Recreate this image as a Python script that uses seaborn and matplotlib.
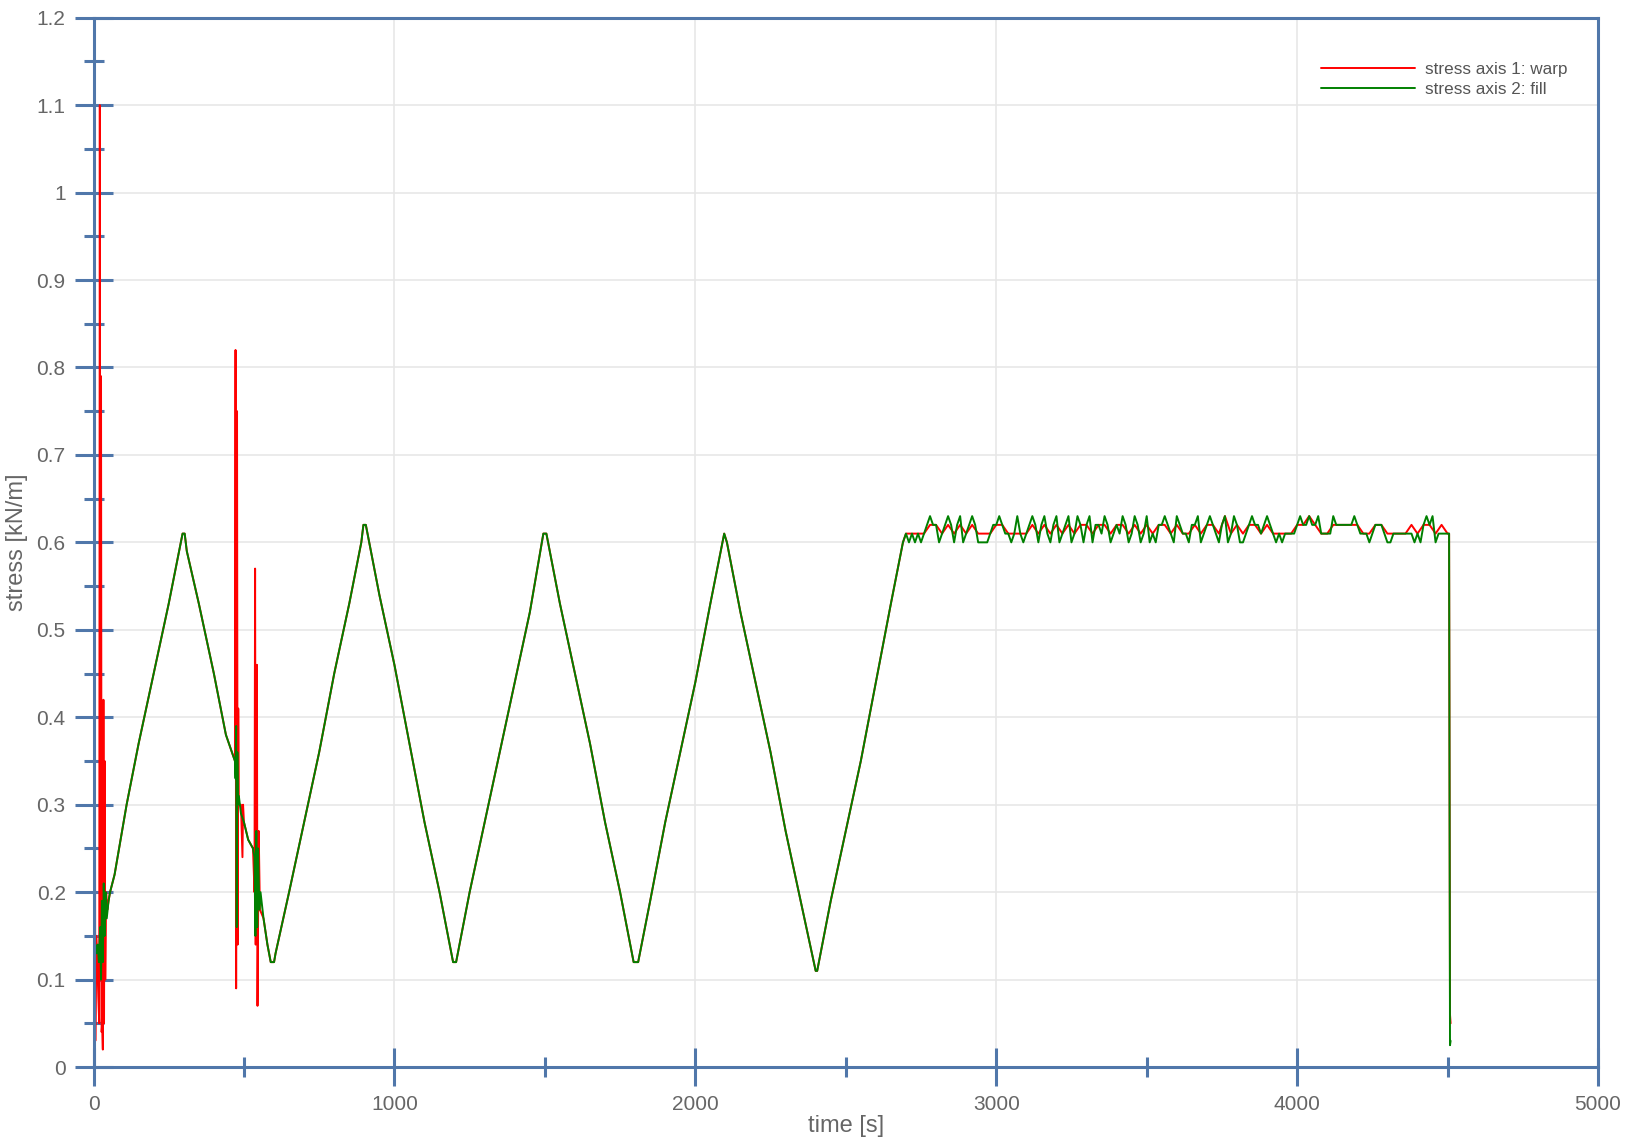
import numpy as np
import pandas as pd
import matplotlib
matplotlib.use("Agg")
import matplotlib.pyplot as plt
import seaborn as sns
from matplotlib.ticker import MultipleLocator, FuncFormatter

# start of test: noisy first seconds (time, value)
warp_start_t = [0, 2, 4, 6, 9, 12, 16, 19, 21, 23, 25, 27, 29, 31, 33, 35, 37, 39, 42, 46, 50]
warp_start_v = [0.12, 0.08, 0.52, 0.03, 0.15, 0.13, 0.08, 0.05, 1.10, 0.10, 0.79, 0.04, 0.05, 0.02,
                0.42, 0.05, 0.35, 0.10, 0.20, 0.18, 0.19]
fill_start_t = [0, 3, 6, 10, 14, 18, 22, 25, 28, 31, 34, 37, 40, 44, 50]
fill_start_v = [0.15, 0.10, 0.14, 0.13, 0.14, 0.12, 0.16, 0.10, 0.19, 0.12, 0.21, 0.15, 0.20, 0.17, 0.19]

# first ramp up and down (shared by both axes)
ramp1_t = [55, 70, 110, 150, 200, 250, 290, 296, 303, 310, 350, 400, 440, 470]
ramp1_v = [0.20, 0.22, 0.30, 0.37, 0.45, 0.53, 0.60, 0.61, 0.61, 0.59, 0.53, 0.45, 0.38, 0.35]

# disturbance around 470-590 s
warp_mid_t = [472, 474, 477, 479, 481, 483, 490, 495, 497, 500, 514, 530, 535, 537, 539, 543, 545,
              549, 553, 565, 578, 589]
warp_mid_v = [0.82, 0.09, 0.75, 0.14, 0.41, 0.30, 0.30, 0.24, 0.30, 0.28, 0.26, 0.25, 0.20, 0.57,
              0.14, 0.46, 0.07, 0.27, 0.18, 0.17, 0.14, 0.12]
fill_mid_t = [472, 474, 476, 478, 480, 483, 490, 500, 514, 530, 535, 538, 541, 544, 547, 551, 555,
              565, 578, 589]
fill_mid_v = [0.33, 0.39, 0.16, 0.36, 0.30, 0.31, 0.29, 0.28, 0.26, 0.25, 0.24, 0.15, 0.27, 0.16,
              0.25, 0.18, 0.20, 0.17, 0.14, 0.12]

# load cycles (shared by both axes)
cycles_t = [600, 605, 650, 700, 750, 800, 850, 890, 897, 905, 950, 1000, 1050, 1100, 1150, 1195,
            1205, 1250, 1300, 1350, 1400, 1450, 1490, 1495, 1505, 1550, 1600, 1650, 1700, 1750,
            1795, 1810, 1850, 1900, 1950, 2000, 2050, 2090, 2096, 2105, 2150, 2200, 2250, 2300,
            2350, 2400, 2405, 2450, 2500, 2550, 2600, 2650, 2690]
cycles_v = [0.12, 0.13, 0.20, 0.28, 0.36, 0.45, 0.53, 0.60, 0.62, 0.62, 0.54, 0.46, 0.37, 0.28,
            0.20, 0.12, 0.12, 0.20, 0.28, 0.36, 0.44, 0.52, 0.60, 0.61, 0.61, 0.53, 0.45, 0.37,
            0.28, 0.20, 0.12, 0.12, 0.19, 0.28, 0.36, 0.44, 0.53, 0.60, 0.61, 0.60, 0.52, 0.44,
            0.36, 0.27, 0.19, 0.11, 0.11, 0.19, 0.27, 0.35, 0.44, 0.53, 0.60]

# hold phase, 2700-4500 s every 10 s (hundredths of kN/m)
fill_hold = [61, 60, 61, 60, 61, 60, 61, 62, 63, 62, 62, 60, 61, 62, 63, 62, 60, 62, 63, 60,
             61, 62, 63, 62, 60, 60, 60, 60, 61, 62, 62, 63, 62, 61, 61, 60, 61, 63, 61, 60,
             61, 62, 63, 62, 60, 62, 63, 61, 60, 62, 63, 60, 61, 62, 63, 60, 61, 63, 62, 60,
             62, 63, 60, 62, 62, 61, 63, 62, 60, 61, 62, 61, 63, 62, 60, 61, 63, 62, 60, 61,
             63, 60, 61, 60, 62, 62, 63, 62, 61, 60, 63, 62, 61, 61, 60, 62, 62, 63, 60, 61,
             62, 63, 62, 61, 60, 62, 63, 60, 61, 63, 62, 60, 60, 61, 62, 63, 62, 62, 61, 62,
             63, 62, 61, 60, 61, 60, 61, 61, 61, 61, 62, 63, 62, 62, 63, 62, 62, 63, 61, 61,
             61, 61, 63, 62, 62, 62, 62, 62, 62, 63, 62, 61, 61, 61, 60, 61, 62, 62, 62, 61,
             60, 60, 61, 61, 61, 61, 61, 61, 61, 60, 61, 60, 62, 63, 62, 63, 60, 61, 61, 61,
             61]
# hold phase, 2700-4500 s every 20 s
warp_hold = [61, 61, 61, 61, 62, 62, 61, 62, 61, 62, 61, 62, 61, 61, 61, 62, 62, 61, 61, 61,
             61, 62, 61, 62, 61, 62, 61, 62, 61, 62, 62, 61, 62, 62, 61, 62, 62, 61, 62, 61,
             62, 61, 62, 62, 61, 62, 61, 61, 62, 61, 62, 62, 61, 63, 61, 62, 61, 62, 62, 61,
             62, 61, 61, 61, 61, 62, 62, 63, 62, 61, 61, 62, 62, 62, 62, 62, 61, 61, 62, 62,
             61, 61, 61, 61, 62, 61, 62, 62, 61, 62, 61]

# unloading at the end
warp_end_t = [4505, 4508, 4510]
warp_end_v = [0.61, 0.06, 0.05]
fill_end_t = [4505, 4508, 4510]
fill_end_v = [0.61, 0.025, 0.03]

fill_hold_t = np.arange(2700, 4501, 10)
warp_hold_t = np.arange(2700, 4501, 20)

warp = pd.DataFrame({
    "t": np.concatenate([warp_start_t, ramp1_t, warp_mid_t, cycles_t, warp_hold_t, warp_end_t]),
    "v": np.concatenate([warp_start_v, ramp1_v, warp_mid_v, cycles_v,
                         np.array(warp_hold) / 100, warp_end_v]),
})
fill = pd.DataFrame({
    "t": np.concatenate([fill_start_t, ramp1_t, fill_mid_t, cycles_t, fill_hold_t, fill_end_t]),
    "v": np.concatenate([fill_start_v, ramp1_v, fill_mid_v, cycles_v,
                         np.array(fill_hold) / 100, fill_end_v]),
})

sns.set_theme(style="white")
plt.rcParams["font.family"] = ["Liberation Sans", "DejaVu Sans"]

frame = "#5077aa"
fig = plt.figure(figsize=(16.29, 11.47), dpi=100)
ax = fig.add_axes([0.0574, 0.0697, 0.9236, 0.9149])

sns.lineplot(data=warp, x="t", y="v", ax=ax, color="#ff0000", lw=1.4, sort=False,
             estimator=None, label="stress axis 1: warp")
sns.lineplot(data=fill, x="t", y="v", ax=ax, color="#008000", lw=1.4, sort=False,
             estimator=None, label="stress axis 2: fill")

ax.set_xlim(0, 5000)
ax.set_ylim(0, 1.2)
ax.xaxis.set_major_locator(MultipleLocator(1000))
ax.xaxis.set_minor_locator(MultipleLocator(500))
ax.yaxis.set_major_locator(MultipleLocator(0.1))
ax.yaxis.set_minor_locator(MultipleLocator(0.05))
ax.yaxis.set_major_formatter(FuncFormatter(lambda v, p: "%g" % round(v, 2)))
ax.grid(True, which="major", color="#e6e6e6", lw=1.1)
ax.set_axisbelow(True)

for s in ax.spines.values():
    s.set_color(frame)
    s.set_linewidth(2.2)

ax.tick_params(which="major", direction="inout", length=28, width=2.2, color=frame,
               labelsize=15, labelcolor="#666666", pad=6)
ax.tick_params(which="minor", direction="inout", length=15, width=2.2, color=frame)
ax.tick_params(top=False, right=False, bottom=True, left=True, which="both")

ax.set_xlabel("time [s]", fontsize=17, color="#666666", labelpad=1)
ax.set_ylabel("stress [kN/m]", fontsize=17, color="#666666", labelpad=6)

leg = ax.legend(loc="upper right", bbox_to_anchor=(0.99, 0.972), frameon=False,
                fontsize=12.3, handlelength=5.5, labelspacing=0.28, handletextpad=0.6)
for t in leg.get_texts():
    t.set_color("#555555")

fig.savefig("out.png", dpi=100)
